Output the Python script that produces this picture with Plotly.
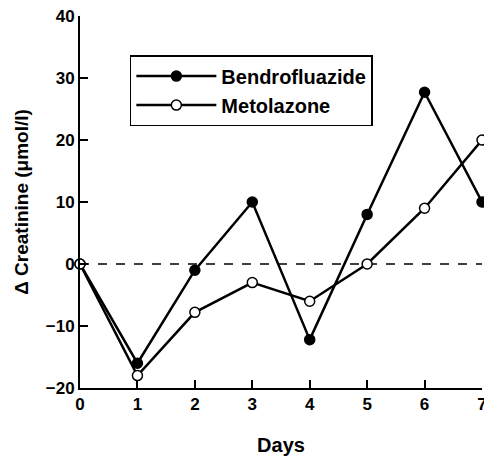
import plotly.graph_objects as go

days = [0, 1, 2, 3, 4, 5, 6, 7]
bendroflu = [0, -16, -1, 10, -12.2, 8, 27.7, 10]
metolazone = [0, -18, -7.8, -3, -6, 0, 9, 20]
x_ticks = [0, 1, 2, 3, 4, 5, 6, 7]
y_ticks = [-20, -10, 0, 10, 20, 30, 40]

FONT = "Liberation Sans, Arial, sans-serif"

fig = go.Figure()
fig.add_trace(go.Scatter(
    x=days, y=bendroflu, name="Bendrofluazide", mode="lines+markers",
    line=dict(color="black", width=2.5),
    marker=dict(symbol="circle", size=10, color="black", line=dict(color="black", width=1.5)),
    cliponaxis=False,
))
fig.add_trace(go.Scatter(
    x=days, y=metolazone, name="Metolazone", mode="lines+markers",
    line=dict(color="black", width=2.5),
    marker=dict(symbol="circle", size=10, color="white", line=dict(color="black", width=1.5)),
    cliponaxis=False,
))

fig.add_shape(type="line", x0=0, x1=7.1, y0=0, y1=0, xref="x", yref="y",
              line=dict(color="black", width=1.3, dash="dash"), layer="below")

fig.update_layout(
    width=496, height=457,
    margin=dict(l=80, r=14, t=16, b=69, autoexpand=False),
    paper_bgcolor="white", plot_bgcolor="white",
    font=dict(family=FONT, size=17, color="black", weight="bold"),
    showlegend=True,
    legend=dict(
        x=0.124, y=0.895, xanchor="left", yanchor="top",
        bordercolor="black", borderwidth=1.5, bgcolor="white",
        font=dict(family=FONT, size=20, color="black", weight="bold"),
        itemwidth=80, tracegroupgap=0,
    ),
    xaxis=dict(
        range=[0, 7], tickvals=x_ticks, ticktext=[str(v) for v in x_ticks],
        automargin=False,
        showgrid=False, zeroline=False, showline=True, linecolor="black", linewidth=2,
        ticks="inside", ticklen=8, tickwidth=2, tickcolor="black",
        tickfont=dict(family=FONT, size=17, color="black", weight="bold"),
        title=dict(text="Days", font=dict(family=FONT, size=20, color="black", weight="bold"), standoff=25),
    ),
    yaxis=dict(
        range=[-20, 40], tickvals=y_ticks, ticktext=[("\u2212" + str(-v)) if v < 0 else str(v) for v in y_ticks],
        automargin=False,
        showgrid=False, zeroline=False, showline=True, linecolor="black", linewidth=2,
        ticks="inside", ticklen=8, tickwidth=2, tickcolor="black",
        tickfont=dict(family=FONT, size=17, color="black", weight="bold"),
        title=dict(text="\u0394 Creatinine (\u03bcmol/l)", font=dict(family=FONT, size=19, color="black", weight="bold"), standoff=12),
    ),
)

fig.write_html("out.html", config={"displayModeBar": False},
               post_script="document.body.style.margin='0';document.body.style.overflow='hidden';")
